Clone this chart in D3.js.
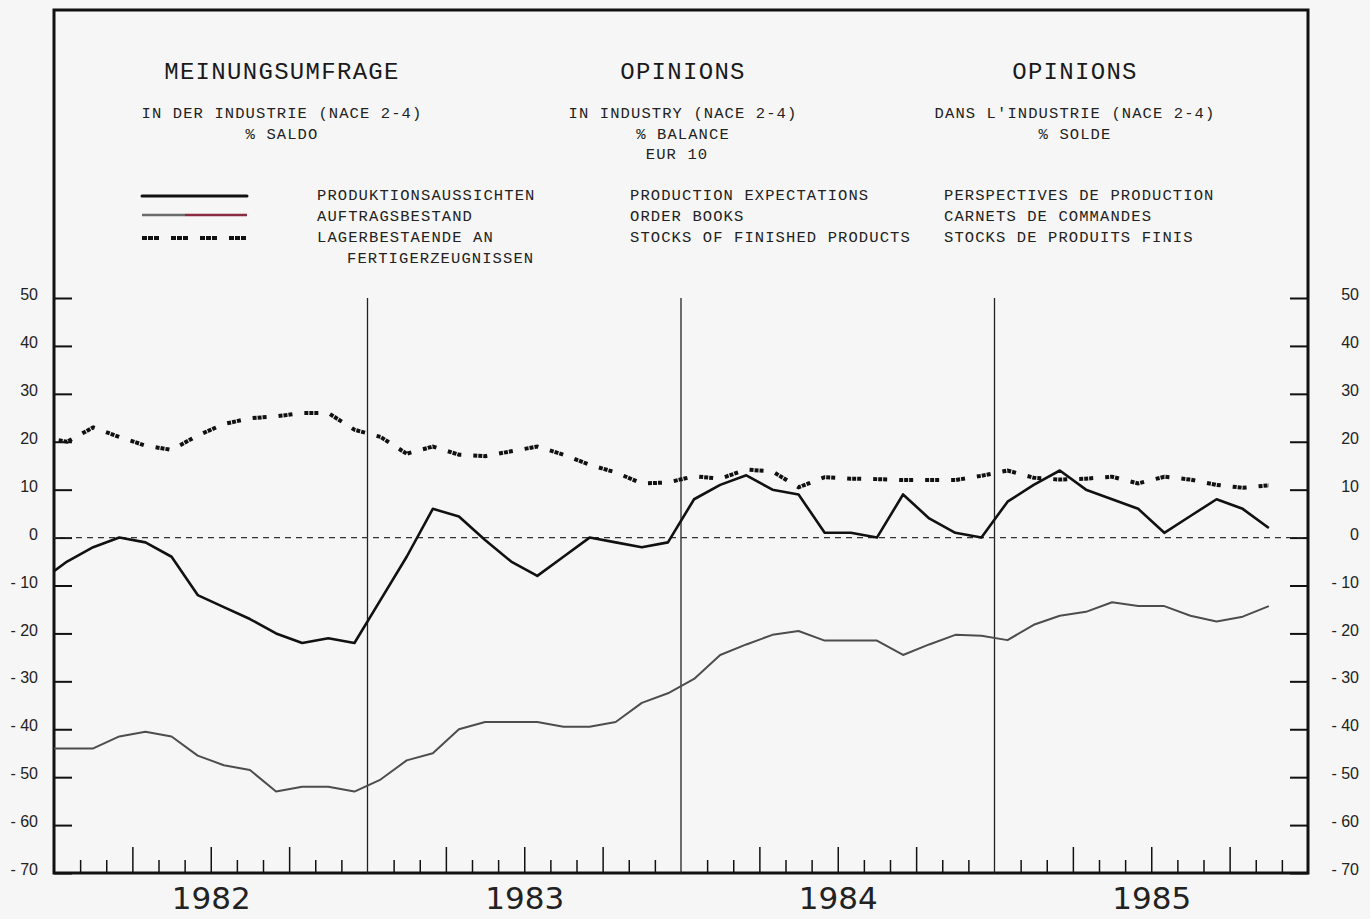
<!DOCTYPE html>
<html>
<head>
<meta charset="utf-8">
<script src="https://cdnjs.cloudflare.com/ajax/libs/d3/7.8.5/d3.min.js"></script>
<style>
  html, body { margin: 0; padding: 0; background: #f6f6f6; }
  svg { display: block; }
</style>
</head>
<body>
<svg id="chart" width="1370" height="919"></svg>
<script>
// ---------- DATA (monthly, Dec 1981 .. Nov 1985) ----------
const years = [1982, 1983, 1984, 1985];
const firstPeriod = "1981-12";
// Produktionsaussichten / Production expectations
const production = [-9,
  -5, -2, 0, -1, -4, -12, -14.5, -17, -20, -22, -21, -22,
  -13, -4, 6, 4.4, -0.5, -5, -8, -4, 0, -1, -2, -1,
  8, 11, 13, 10, 9, 1, 1, 0, 9, 4, 1, 0,
  7.5, 11, 14, 10, 8, 6, 1, 4.5, 8, 6, 2];
// Auftragsbestand / Order books
const orders = [-44,
  -44, -44, -41.5, -40.5, -41.5, -45.5, -47.5, -48.5, -53, -52, -52, -53,
  -50.5, -46.5, -45, -40, -38.5, -38.5, -38.5, -39.5, -39.5, -38.5, -34.5, -32.5,
  -29.5, -24.5, -22.3, -20.3, -19.5, -21.5, -21.5, -21.5, -24.5, -22.3, -20.3, -20.5,
  -21.4, -18.2, -16.3, -15.5, -13.5, -14.3, -14.3, -16.3, -17.5, -16.5, -14.3];
// Lagerbestaende an Fertigerzeugnissen / Stocks of finished products
const stocks = [21,
  20, 23, 21, 19.2, 18.3, 21.3, 23.7, 24.9, 25.3, 26, 26, 22.5,
  21, 17.5, 19, 17.3, 17, 18, 19, 17.3, 15.2, 13.6, 11.3, 11.5,
  12.8, 12.3, 14.2, 13.8, 10.5, 12.6, 12.3, 12.2, 12, 12, 12, 12.9,
  14, 12.5, 12.1, 12.3, 12.7, 11.3, 12.7, 12.1, 11, 10.4, 10.9];
const yTicks = [50, 40, 30, 20, 10, 0, -10, -20, -30, -40, -50, -60, -70];

const headers = [
  { title: "MEINUNGSUMFRAGE", lines: ["IN DER INDUSTRIE (NACE 2-4)", "% SALDO"] },
  { title: "OPINIONS", lines: ["IN INDUSTRY (NACE 2-4)", "% BALANCE", "EUR 10"] },
  { title: "OPINIONS", lines: ["DANS L'INDUSTRIE (NACE 2-4)", "% SOLDE"] }
];
const legendDE = ["PRODUKTIONSAUSSICHTEN", "AUFTRAGSBESTAND", "LAGERBESTAENDE AN", "FERTIGERZEUGNISSEN"];
const legendEN = ["PRODUCTION EXPECTATIONS", "ORDER BOOKS", "STOCKS OF FINISHED PRODUCTS"];
const legendFR = ["PERSPECTIVES DE PRODUCTION", "CARNETS DE COMMANDES", "STOCKS DE PRODUITS FINIS"];

// ---------- LAYOUT ----------
const svg = d3.select("#chart");
const L = 54, R = 1308, TOP = 10;
const nMonths = years.length * 12;
const x = d3.scaleLinear().domain([0, nMonths]).range([L, R]);
const y = d3.scaleLinear().domain([-70, 50]).range([873, 298]);
const px = i => x(i - 0.5); // index 0 = Dec 1981, plotted mid-month

const monoFont = "'Liberation Mono', 'DejaVu Sans Mono', monospace";

// frame
svg.append("path")
  .attr("d", `M${L},${TOP} H${R} V${y(-70)} H${L} Z`)
  .attr("fill", "none").attr("stroke", "#111").attr("stroke-width", 3);

// ---------- HEADER ----------
const headerX = [282, 683, 1075];
headers.forEach((h, i) => {
  svg.append("text").attr("x", headerX[i]).attr("y", 79)
    .attr("text-anchor", "middle")
    .style("font-family", monoFont).style("font-size", "24px")
    .style("letter-spacing", "1.3px").attr("fill", "#1a1a1a")
    .text(h.title);
  h.lines.forEach((t, j) => {
    svg.append("text").attr("x", headerX[i] - (i === 1 && j === 2 ? 6 : 0)).attr("y", 118 + j * 20.5)
      .attr("text-anchor", "middle")
      .style("font-family", monoFont).style("font-size", "15.5px")
      .style("letter-spacing", "1.1px").attr("fill", "#222")
      .text(t);
  });
});

// ---------- LEGEND ----------
const legY = [196, 215, 238];
svg.append("line").attr("x1", 142).attr("x2", 247).attr("y1", legY[0]).attr("y2", legY[0])
  .attr("stroke", "#111").attr("stroke-width", 3).attr("stroke-linecap", "round");
svg.append("line").attr("x1", 142).attr("x2", 185).attr("y1", legY[1]).attr("y2", legY[1])
  .attr("stroke", "#6b6b6b").attr("stroke-width", 2.5);
svg.append("line").attr("x1", 185).attr("x2", 247).attr("y1", legY[1]).attr("y2", legY[1])
  .attr("stroke", "#8a2b44").attr("stroke-width", 2.5);
svg.append("line").attr("x1", 142).attr("x2", 246).attr("y1", legY[2]).attr("y2", legY[2])
  .attr("stroke", "#111").attr("stroke-width", 4).attr("stroke-dasharray", "5,1,5,1,5,12");

function legendCol(xPos, arr) {
  arr.forEach((t, j) => {
    svg.append("text").attr("x", xPos + (j === 3 ? 30 : 0)).attr("y", 200 + j * 21)
      .style("font-family", monoFont).style("font-size", "15.5px")
      .style("letter-spacing", "1.1px").attr("fill", "#222").text(t);
  });
}
legendCol(317, legendDE);
legendCol(630, legendEN);
legendCol(944, legendFR);

// ---------- AXES ----------
const fmt = d => d < 0 ? "- " + (-d) : String(d);
const yl = svg.append("g").attr("transform", `translate(${L},0)`)
  .call(d3.axisLeft(y).tickValues(yTicks).tickSizeInner(-18).tickSizeOuter(0).tickPadding(34).tickFormat(fmt));
const yr = svg.append("g").attr("transform", `translate(${R},0)`)
  .call(d3.axisRight(y).tickValues(yTicks).tickSizeInner(-18).tickSizeOuter(0).tickPadding(34).tickFormat(fmt));
[yl, yr].forEach(g => {
  g.select(".domain").remove();
  g.selectAll(".tick line").attr("stroke", "#111").attr("stroke-width", 2);
  g.selectAll(".tick text").attr("dy", "0.1em")
    .style("font-family", "'Liberation Sans', Arial, sans-serif").style("font-size", "16px").attr("fill", "#222");
});
yl.selectAll(".tick text").attr("x", -16).attr("text-anchor", "end");
yr.selectAll(".tick text").attr("x", 51).attr("text-anchor", "end");

// month ticks
const minorTicks = d3.range(1, nMonths).filter(m => m % 12 !== 0 && m % 3 !== 0);
const quarterTicks = d3.range(1, nMonths).filter(m => m % 12 !== 0 && m % 3 === 0);
const xa1 = svg.append("g").attr("transform", `translate(0,${y(-70)})`)
  .call(d3.axisBottom(x).tickValues(minorTicks).tickSizeInner(-13).tickSizeOuter(0).tickFormat(""));
const xa2 = svg.append("g").attr("transform", `translate(0,${y(-70)})`)
  .call(d3.axisBottom(x).tickValues(quarterTicks).tickSizeInner(-26).tickSizeOuter(0).tickFormat(""));
[xa1, xa2].forEach(g => {
  g.select(".domain").remove();
  g.selectAll(".tick line").attr("stroke", "#111").attr("stroke-width", 1.5);
});
// year labels
const xy = svg.append("g").attr("transform", `translate(0,${y(-70)})`)
  .call(d3.axisBottom(x).tickValues(years.map((yv, i) => i * 12 + 6)).tickSize(0).tickPadding(14)
    .tickFormat((d, i) => years[i]));
xy.select(".domain").remove();
xy.selectAll(".tick text").style("font-family", "'DejaVu Sans', sans-serif")
  .style("font-size", "31px").attr("fill", "#222").attr("dy", "0.71em");

// year separators
svg.selectAll(".yearline").data(years.slice(1)).enter().append("line")
  .attr("x1", (d, i) => x((i + 1) * 12)).attr("x2", (d, i) => x((i + 1) * 12))
  .attr("y1", y(50)).attr("y2", y(-70))
  .attr("stroke", "#222").attr("stroke-width", 1.3);

// zero line
svg.append("line").attr("x1", L).attr("x2", R).attr("y1", y(0)).attr("y2", y(0))
  .attr("stroke", "#333").attr("stroke-width", 1.3).attr("stroke-dasharray", "6,5");

// ---------- LINES ----------
svg.append("clipPath").attr("id", "plotclip").append("rect")
  .attr("x", L).attr("y", TOP).attr("width", R - L).attr("height", y(-70) - TOP);
const line = d3.line().x((d, i) => px(i)).y(d => y(d));
const plot = svg.append("g").attr("clip-path", "url(#plotclip)");
plot.append("path").datum(orders).attr("d", line)
  .attr("fill", "none").attr("stroke", "#4d4d4d").attr("stroke-width", 2).attr("stroke-linejoin", "round");
plot.append("path").datum(stocks).attr("d", line)
  .attr("fill", "none").attr("stroke", "#111").attr("stroke-width", 4)
  .attr("stroke-dasharray", "4,1,4,1,4,12").attr("stroke-dashoffset", 8);
plot.append("path").datum(production).attr("d", line)
  .attr("fill", "none").attr("stroke", "#111").attr("stroke-width", 2.6).attr("stroke-linejoin", "round");
</script>
</body>
</html>
